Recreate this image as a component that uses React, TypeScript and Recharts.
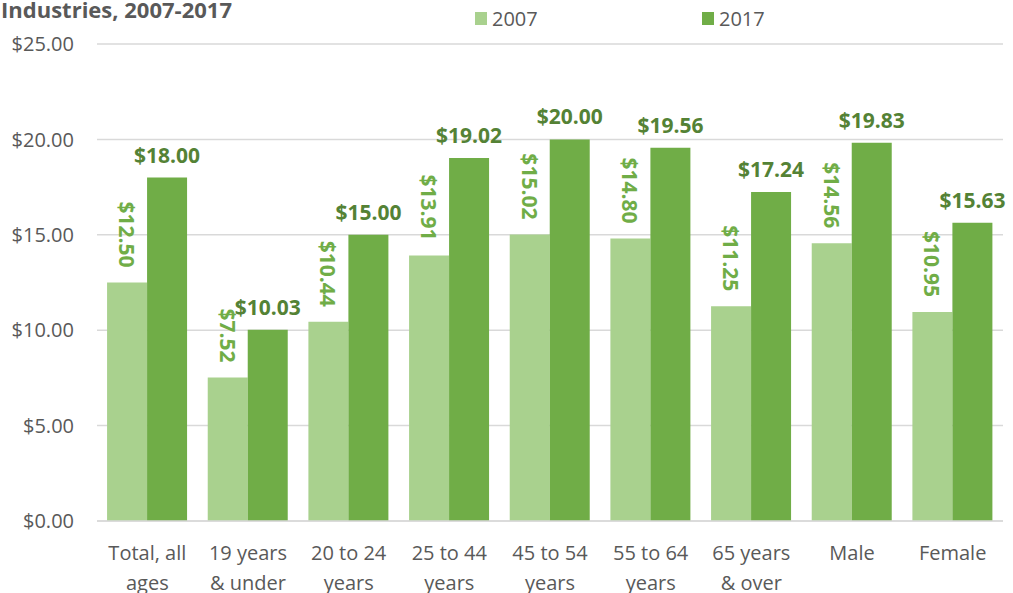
import { Bar, BarChart, CartesianGrid, LabelList, XAxis, YAxis } from "recharts";

const categories = [
  "Total, all\nages",
  "19 years\n& under",
  "20 to 24\nyears",
  "25 to 44\nyears",
  "45 to 54\nyears",
  "55 to 64\nyears",
  "65 years\n& over",
  "Male",
  "Female",
];
const wages2007 = [12.5, 7.52, 10.44, 13.91, 15.02, 14.8, 11.25, 14.56, 10.95];
const wages2017 = [18.0, 10.03, 15.0, 19.02, 20.0, 19.56, 17.24, 19.83, 15.63];
const yTicks = [0, 5, 10, 15, 20, 25];

const data = categories.map((name, i) => ({
  name,
  y2007: wages2007[i],
  y2017: wages2017[i],
}));

const FONT = "'Open Sans', 'Noto Sans', sans-serif";
const TEXT = "#595959";
const LIGHT = "#a9d18e";
const DARK = "#70ad47";
const DARK_LABEL = "#548235";

const money = (v: number) => `$${v.toFixed(2)}`;

function CategoryTick(props: any) {
  const { x, y, payload } = props;
  const lines = String(payload.value).split("\n");
  return (
    <text x={x} y={y} textAnchor="middle" fill={TEXT} fontSize={20} fontFamily={FONT}>
      {lines.map((line, i) => (
        <tspan key={i} x={x} dy={i === 0 ? 31 : 30}>
          {line}
        </tspan>
      ))}
    </text>
  );
}

// 2007 labels read top-to-bottom, ending just above the bar
function RotatedLabel(props: any) {
  const { x, y, width, value } = props;
  const cx = x + width / 2;
  const cy = y - 15;
  return (
    <text
      x={cx}
      y={cy}
      transform={`rotate(90, ${cx}, ${cy})`}
      textAnchor="end"
      dominantBaseline="central"
      fill={DARK}
      fontSize={21}
      fontWeight="bold"
      fontFamily={FONT}
    >
      {money(value)}
    </text>
  );
}

function TopLabel(props: any) {
  const { x, y, width, value } = props;
  return (
    <text
      x={x + width / 2}
      y={y - 15}
      textAnchor="middle"
      fill={DARK_LABEL}
      fontSize={21}
      fontWeight="bold"
      fontFamily={FONT}
    >
      {money(value)}
    </text>
  );
}

export default function App() {
  return (
    <div
      style={{
        position: "absolute",
        left: 0,
        top: 0,
        width: 1013,
        height: 593,
        background: "#fff",
        overflow: "hidden",
        fontFamily: FONT,
      }}
    >
      <div
        style={{
          position: "absolute",
          right: 781,
          top: -6,
          whiteSpace: "nowrap",
          fontSize: 22,
          fontWeight: "bold",
          color: TEXT,
        }}
      >
        Industries, 2007-2017
      </div>

      <div style={{ position: "absolute", left: 475, top: 5, display: "flex", alignItems: "center", color: TEXT, fontSize: 20 }}>
        <span style={{ width: 12, height: 13, background: LIGHT, marginRight: 5 }} />
        2007
      </div>
      <div style={{ position: "absolute", left: 702, top: 5, display: "flex", alignItems: "center", color: TEXT, fontSize: 20 }}>
        <span style={{ width: 12, height: 13, background: DARK, marginRight: 5 }} />
        2017
      </div>

      <BarChart
        width={1013}
        height={593}
        data={data}
        margin={{ top: 44, right: 10, left: 0, bottom: 0 }}
        barCategoryGap="10%"
        barGap={0}
      >
        <CartesianGrid vertical={false} stroke="#d9d9d9" strokeWidth={1.5} />
        <XAxis
          dataKey="name"
          interval={0}
          height={72}
          tickLine={false}
          axisLine={{ stroke: "#d9d9d9", strokeWidth: 1.5 }}
          tick={<CategoryTick />}
        />
        <YAxis
          width={97}
          domain={[0, 25]}
          ticks={yTicks}
          axisLine={false}
          tickLine={false}
          tickSize={0}
          tickMargin={23}
          tickFormatter={money}
          tick={{ fill: TEXT, fontSize: 20, fontFamily: FONT }}
        />
        <Bar dataKey="y2007" fill={LIGHT} isAnimationActive={false}>
          <LabelList dataKey="y2007" content={<RotatedLabel />} />
        </Bar>
        <Bar dataKey="y2017" fill={DARK} isAnimationActive={false}>
          <LabelList dataKey="y2017" content={<TopLabel />} />
        </Bar>
      </BarChart>
    </div>
  );
}
